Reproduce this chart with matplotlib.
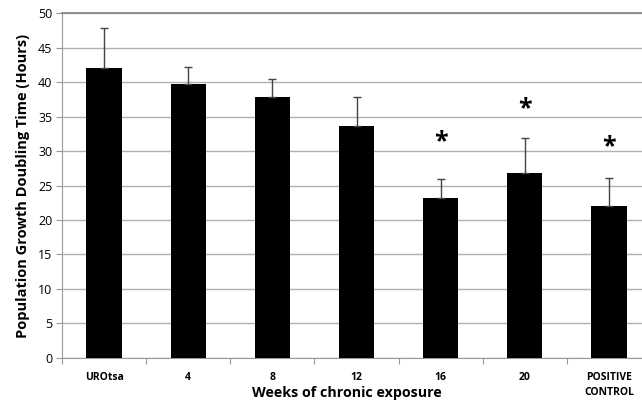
import matplotlib
matplotlib.use("Agg")
import matplotlib.pyplot as plt
import numpy as np

# doubling time per group (hours) with upper SD
groups = ["UROtsa", "4", "8", "12", "16", "20", "POSITIVE\nCONTROL"]
doubling_time = [42.0, 39.7, 37.9, 33.6, 23.2, 26.8, 22.0]
sd = [5.9, 2.5, 2.6, 4.2, 2.8, 5.1, 4.1]
# significance markers: (group index, height)
star_idx = [4, 5, 6]
star_y = [31.4, 36.1, 30.6]

plt.rcParams["font.family"] = ["Open Sans", "DejaVu Sans"]

fig = plt.figure(figsize=(6.42, 4.03), dpi=100)
ax = fig.add_axes([62 / 642, 0.1124, 589 / 642, 0.8546])

x = np.arange(len(groups))
ax.bar(x, doubling_time, width=0.42, color="black", zorder=3)
ax.errorbar(x, doubling_time, yerr=[np.zeros(len(sd)), sd], fmt="none",
            ecolor="#444444", elinewidth=1.0, capsize=3, capthick=1.0, zorder=4)
for i, yv in zip(star_idx, star_y):
    ax.text(x[i], yv, "*", ha="center", va="center", fontsize=18,
            fontweight="bold", color="black")

ax.set_ylim(0, 50)
ax.set_yticks(range(0, 51, 5))
ax.set_xlim(-0.5, len(groups) - 0.5)
ax.yaxis.grid(True, color="#b0b0b0", linewidth=1.0, zorder=0)
ax.set_axisbelow(True)

# category labels between boundary ticks
ax.set_xticks(np.arange(len(groups) + 1) - 0.5)
ax.set_xticklabels([])
ax.set_xticks(x, minor=True)
ax.set_xticklabels(groups, minor=True, fontsize=7.5, fontweight="bold",
                   linespacing=1.5)
ax.tick_params(axis="x", which="minor", length=0, pad=10)
ax.tick_params(axis="x", which="major", length=4, color="#999999")
ax.tick_params(axis="y", length=4, color="#999999", labelsize=9, pad=3)

ax.spines["right"].set_visible(False)
ax.spines["top"].set_color("#888888")
ax.spines["top"].set_linewidth(1.3)
ax.spines["left"].set_color("#999999")
ax.spines["bottom"].set_color("#999999")

fig.text(347 / 642, 1 - 393 / 403, "Weeks of chronic exposure", ha="center",
         va="center", fontsize=10.3, fontweight="bold")
ax.set_ylabel("Population Growth Doubling Time (Hours)", fontsize=10.5,
              fontweight="bold", labelpad=6)

fig.savefig("out.png", dpi=100)
